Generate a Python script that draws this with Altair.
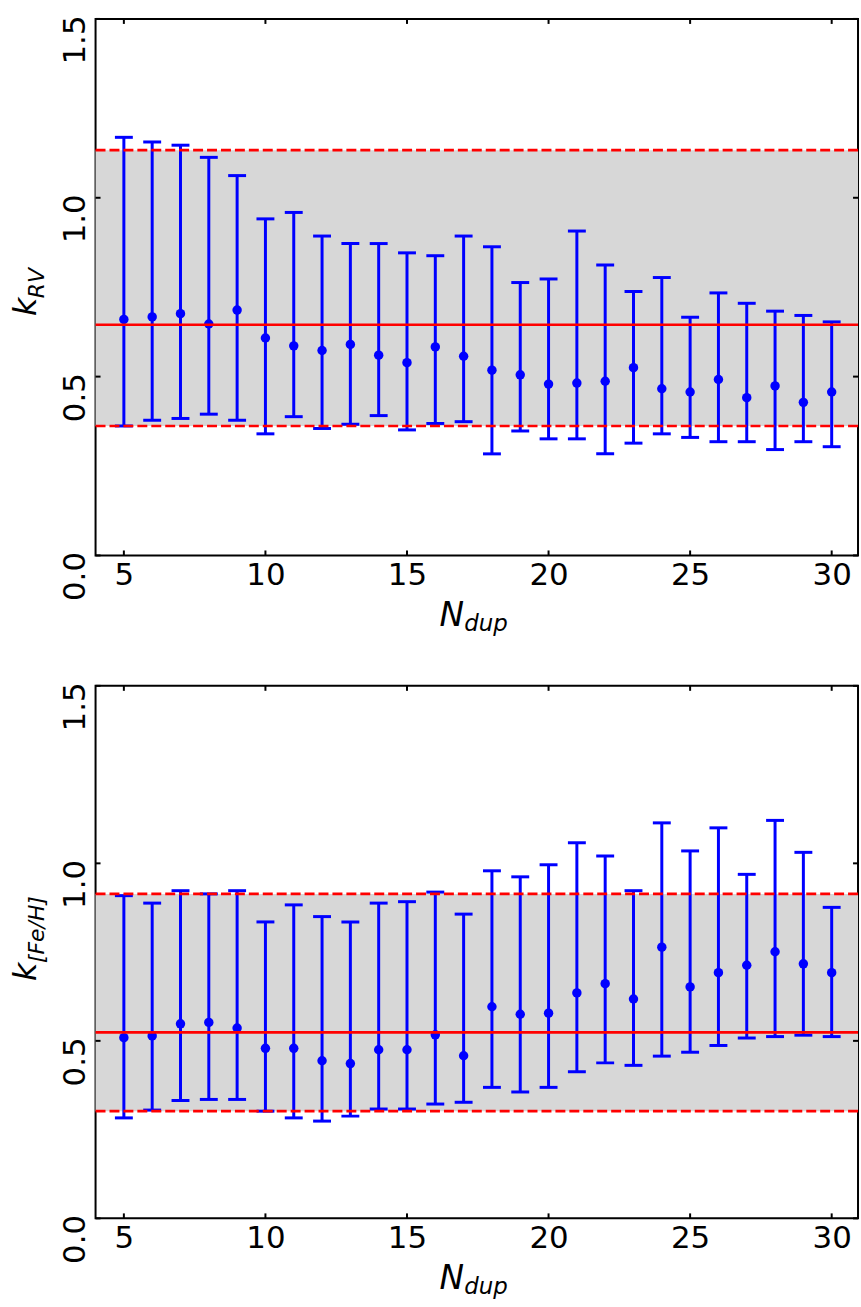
import altair as alt
import pandas as pd

# ---------------- data ----------------
n_dup = list(range(5, 31))

rv_mid = [0.660, 0.667, 0.676, 0.647, 0.686, 0.608, 0.586, 0.573, 0.590, 0.560, 0.539, 0.583, 0.557,
          0.518, 0.505, 0.479, 0.482, 0.487, 0.525, 0.466, 0.457, 0.492, 0.441, 0.474, 0.428, 0.457]
rv_hi = [1.169, 1.156, 1.147, 1.113, 1.062, 0.941, 0.959, 0.893, 0.872, 0.872, 0.846, 0.838, 0.893,
         0.863, 0.763, 0.773, 0.907, 0.812, 0.738, 0.777, 0.666, 0.734, 0.705, 0.683, 0.671, 0.653]
rv_lo = [0.362, 0.378, 0.383, 0.395, 0.378, 0.340, 0.388, 0.355, 0.367, 0.391, 0.351, 0.369, 0.374,
         0.284, 0.348, 0.326, 0.326, 0.284, 0.314, 0.340, 0.330, 0.318, 0.318, 0.296, 0.318, 0.304]
rv_band = [0.362, 0.645, 1.133]  # lower, mean, upper

fe_mid = [0.509, 0.514, 0.548, 0.552, 0.536, 0.479, 0.479, 0.444, 0.436, 0.475, 0.475, 0.517, 0.458,
          0.596, 0.575, 0.578, 0.635, 0.661, 0.618, 0.764, 0.652, 0.692, 0.713, 0.751, 0.717, 0.692]
fe_hi = [0.909, 0.888, 0.923, 0.914, 0.923, 0.835, 0.883, 0.850, 0.835, 0.888, 0.892, 0.919, 0.857,
         0.979, 0.962, 0.996, 1.058, 1.021, 0.923, 1.114, 1.035, 1.100, 0.969, 1.121, 1.031, 0.876]
fe_lo = [0.283, 0.305, 0.332, 0.335, 0.335, 0.302, 0.283, 0.274, 0.288, 0.308, 0.308, 0.322, 0.327,
         0.369, 0.356, 0.369, 0.413, 0.438, 0.431, 0.457, 0.468, 0.487, 0.508, 0.512, 0.516, 0.512]
fe_band = [0.302, 0.524, 0.914]

x_domain = [4, 30.93]
y_domain = [0, 1.5]
x_ticks = [5, 10, 15, 20, 25, 30]
y_ticks = [0.0, 0.5, 1.0, 1.5]

x_title = ["N", "dup"]
rv_title = ["k", "RV"]
fe_title = ["k", "[Fe/H]"]

W = 766
H1 = 539
H2 = 535
FONT = "DejaVu Sans"
BLUE = "#0000ff"
RED = "#ff0000"
GRAY = "#d7d7d7"
LABEL_SIZE = 31


def panel(mid, lo, hi, band, ytitle, H):
    df = pd.DataFrame({"n": n_dup, "mid": mid, "lo": lo, "hi": hi})
    bdf = pd.DataFrame({"x0": [x_domain[0]], "x1": [x_domain[1]],
                        "lo": [band[0]], "mean": [band[1]], "hi": [band[2]]})
    xs = alt.Scale(domain=x_domain, nice=False, zero=False)
    ys = alt.Scale(domain=y_domain, nice=False, zero=False)
    xax = alt.Axis(values=x_ticks, format="d", title=None, ticks=False, domain=False, grid=False,
                   labelFontSize=LABEL_SIZE, labelFont=FONT, labelColor="black", labelPadding=5,
                   labelFlush=False, labelOverlap=False)
    yax = alt.Axis(values=y_ticks, format=".1f", title=None, ticks=False, domain=False, grid=False,
                   labelAngle=270, labelAlign="right", labelBaseline="alphabetic",
                   labelPadding=11.5, labelOffset=-4, labelFontSize=LABEL_SIZE, labelFont=FONT,
                   labelColor="black", labelFlush=False, labelOverlap=False)

    def X(f):
        return alt.X(f, type="quantitative", scale=xs, axis=xax)

    def Y(f):
        return alt.Y(f, type="quantitative", scale=ys, axis=yax)

    rect = alt.Chart(bdf).mark_rect(color=GRAY).encode(x=X("x0"), x2="x1", y=Y("lo"), y2="hi")
    bars = alt.Chart(df).mark_rule(color=BLUE, strokeWidth=3).encode(x=X("n"), y=Y("lo"), y2="hi")
    cap_hi = alt.Chart(df).mark_tick(color=BLUE, orient="horizontal", size=18, thickness=3,
                                     opacity=1).encode(x=X("n"), y=Y("hi"))
    cap_lo = alt.Chart(df).mark_tick(color=BLUE, orient="horizontal", size=18, thickness=3,
                                     opacity=1).encode(x=X("n"), y=Y("lo"))
    pts = alt.Chart(df).mark_circle(color=BLUE, size=90, opacity=1).encode(x=X("n"), y=Y("mid"))
    mean_line = alt.Chart(bdf).mark_rule(color=RED, strokeWidth=2.7).encode(
        x=X("x0"), x2="x1", y=Y("mean"))
    lo_line = alt.Chart(bdf).mark_rule(color=RED, strokeWidth=2.7, strokeDash=[10, 4]).encode(
        x=X("x0"), x2="x1", y=Y("lo"))
    hi_line = alt.Chart(bdf).mark_rule(color=RED, strokeWidth=2.7, strokeDash=[10, 4]).encode(
        x=X("x0"), x2="x1", y=Y("hi"))

    # inward ticks
    xt = pd.DataFrame({"v": x_ticks, "ybot": y_domain[0], "ytop": y_domain[1]})
    yt = pd.DataFrame({"v": y_ticks, "xl": x_domain[0], "xr": x_domain[1]})
    tb = alt.Chart(xt).mark_rule(color="black", strokeWidth=2, y2Offset=-5).encode(
        x=X("v"), y=Y("ybot"), y2="ybot")
    tt = alt.Chart(xt).mark_rule(color="black", strokeWidth=2, y2Offset=5).encode(
        x=X("v"), y=Y("ytop"), y2="ytop")
    tl = alt.Chart(yt).mark_rule(color="black", strokeWidth=2, x2Offset=5).encode(
        y=Y("v"), x=X("xl"), x2="xl")
    tr = alt.Chart(yt).mark_rule(color="black", strokeWidth=2, x2Offset=-5).encode(
        y=Y("v"), x=X("xr"), x2="xr")

    # axis titles as text (main letter + subscript)
    yk = alt.Chart(pd.DataFrame({"t": [ytitle[0]]})).mark_text(
        angle=270, align="left", baseline="alphabetic", font=FONT, fontStyle="italic",
        fontSize=32, color="black").encode(text="t:N", x=alt.value(-59.5), y=alt.value(H / 2 + 29))
    ysub = alt.Chart(pd.DataFrame({"t": [ytitle[1]]})).mark_text(
        angle=270, align="left", baseline="alphabetic", font=FONT, fontStyle="italic",
        fontSize=22, color="black").encode(text="t:N", x=alt.value(-51.5), y=alt.value(H / 2 + 11))
    xn = alt.Chart(pd.DataFrame({"t": [x_title[0]]})).mark_text(
        align="left", baseline="alphabetic", font=FONT, fontStyle="italic",
        fontSize=33, color="black").encode(text="t:N", x=alt.value(345.5), y=alt.value(H + 71))
    xsub = alt.Chart(pd.DataFrame({"t": [x_title[1]]})).mark_text(
        align="left", baseline="alphabetic", font=FONT, fontStyle="italic",
        fontSize=23, color="black").encode(text="t:N", x=alt.value(370.5), y=alt.value(H + 76))

    return alt.layer(rect, bars, cap_hi, cap_lo, pts, mean_line, lo_line, hi_line,
                     tb, tt, tl, tr, yk, ysub, xn, xsub).properties(width=W, height=H)


top = panel(rv_mid, rv_lo, rv_hi, rv_band, rv_title, H1)
bottom = panel(fe_mid, fe_lo, fe_hi, fe_band, fe_title, H2)

chart = alt.vconcat(top, bottom, spacing=44).properties(
    padding={"left": 9, "top": 11, "right": 0, "bottom": 0}
).configure(background="white").configure_view(stroke="black", strokeWidth=2)

chart.save("out.html", embed_options={"renderer": "svg", "actions": False})
